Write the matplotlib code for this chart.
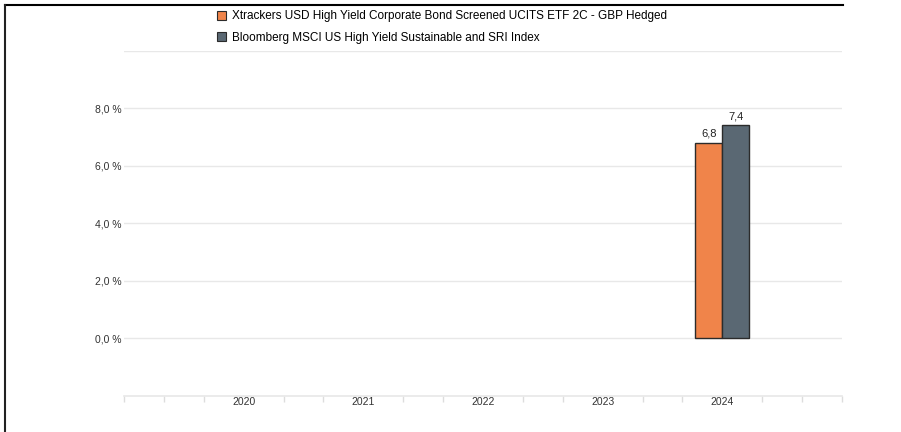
import matplotlib
matplotlib.use("Agg")
from matplotlib import pyplot as plt
from matplotlib.lines import Line2D
from matplotlib.patches import Patch
import numpy as np

plt.rcParams['font.family'] = ['Liberation Sans', 'DejaVu Sans']

years = ["2020", "2021", "2022", "2023", "2024"]
fund_name = "Xtrackers USD High Yield Corporate Bond Screened UCITS ETF 2C - GBP Hedged"
index_name = "Bloomberg MSCI US High Yield Sustainable and SRI Index"
fund_vals = [np.nan, np.nan, np.nan, np.nan, 6.8]
index_vals = [np.nan, np.nan, np.nan, np.nan, 7.4]
y_ticks = [0, 2, 4, 6, 8]

orange = "#f0844a"
slate = "#5a6873"
grid_col = "#e8e8e8"

fig = plt.figure(figsize=(9.01, 4.32), dpi=100)
ax = fig.add_axes([124/901, 1 - 396/432, (842 - 124)/901, (396 - 50.5)/432])

x = np.arange(len(years))
w = 0.225
ax.bar(x - w/2, fund_vals, w, color=orange, edgecolor="#2b2b2b", linewidth=1.0, zorder=3)
ax.bar(x + w/2, index_vals, w, color=slate, edgecolor="#2b2b2b", linewidth=1.0, zorder=3)

for i in range(len(years)):
    for off, v in ((-w/2, fund_vals[i]), (w/2, index_vals[i])):
        if not np.isnan(v):
            ax.text(x[i] + off, v + 0.15, f"{v:.1f}".replace(".", ","),
                    ha="center", va="bottom", fontsize=8, color="#222222")

ax.set_xlim(-1, 5)
ax.set_ylim(-2, 10)

# gridlines
for g in y_ticks + [10]:
    ax.axhline(g, color=grid_col, linewidth=1, zorder=1)
ax.set_yticks(y_ticks)
ax.set_yticklabels([f"{t:.1f} %".replace(".", ",") for t in y_ticks], fontsize=7.5, color="#333333")
ax.tick_params(axis="y", length=0, pad=1.5)

# category labels at centres, small separators between
ax.set_xticks(x)
ax.set_xticklabels(years, fontsize=7.5, color="#333333")
ax.tick_params(axis="x", length=0, pad=1)
sep = [k/3 for k in range(-3, 16) if k % 3 != 0 or k in (-3, 15)]
ax.set_xticks(sep, minor=True)
ax.tick_params(axis="x", which="minor", length=4, color="#dddddd", width=1)

for s in ("top", "right", "left"):
    ax.spines[s].set_visible(False)
ax.spines["bottom"].set_color(grid_col)
ax.spines["bottom"].set_linewidth(1.2)

handles = [Patch(facecolor=orange, edgecolor="#2b2b2b", linewidth=0.8),
           Patch(facecolor=slate, edgecolor="#2b2b2b", linewidth=0.8)]
fig.legend(handles, [fund_name, index_name], loc="upper left",
           bbox_to_anchor=(217/901, 1 - 10.5/432), frameon=False, fontsize=8.5,
           handlelength=0.8, handleheight=0.8, handletextpad=0.5,
           labelspacing=0.8, borderaxespad=0, borderpad=0)

# frame lines from the screenshot
fig.add_artist(Line2D([4.5/901, 843/901], [1 - 4.5/432, 1 - 4.5/432], color="black", linewidth=1.5))
fig.add_artist(Line2D([4.5/901, 4.5/901], [0, 1 - 4.5/432], color="#222222", linewidth=1.5))

fig.savefig("out.png", dpi=100)
